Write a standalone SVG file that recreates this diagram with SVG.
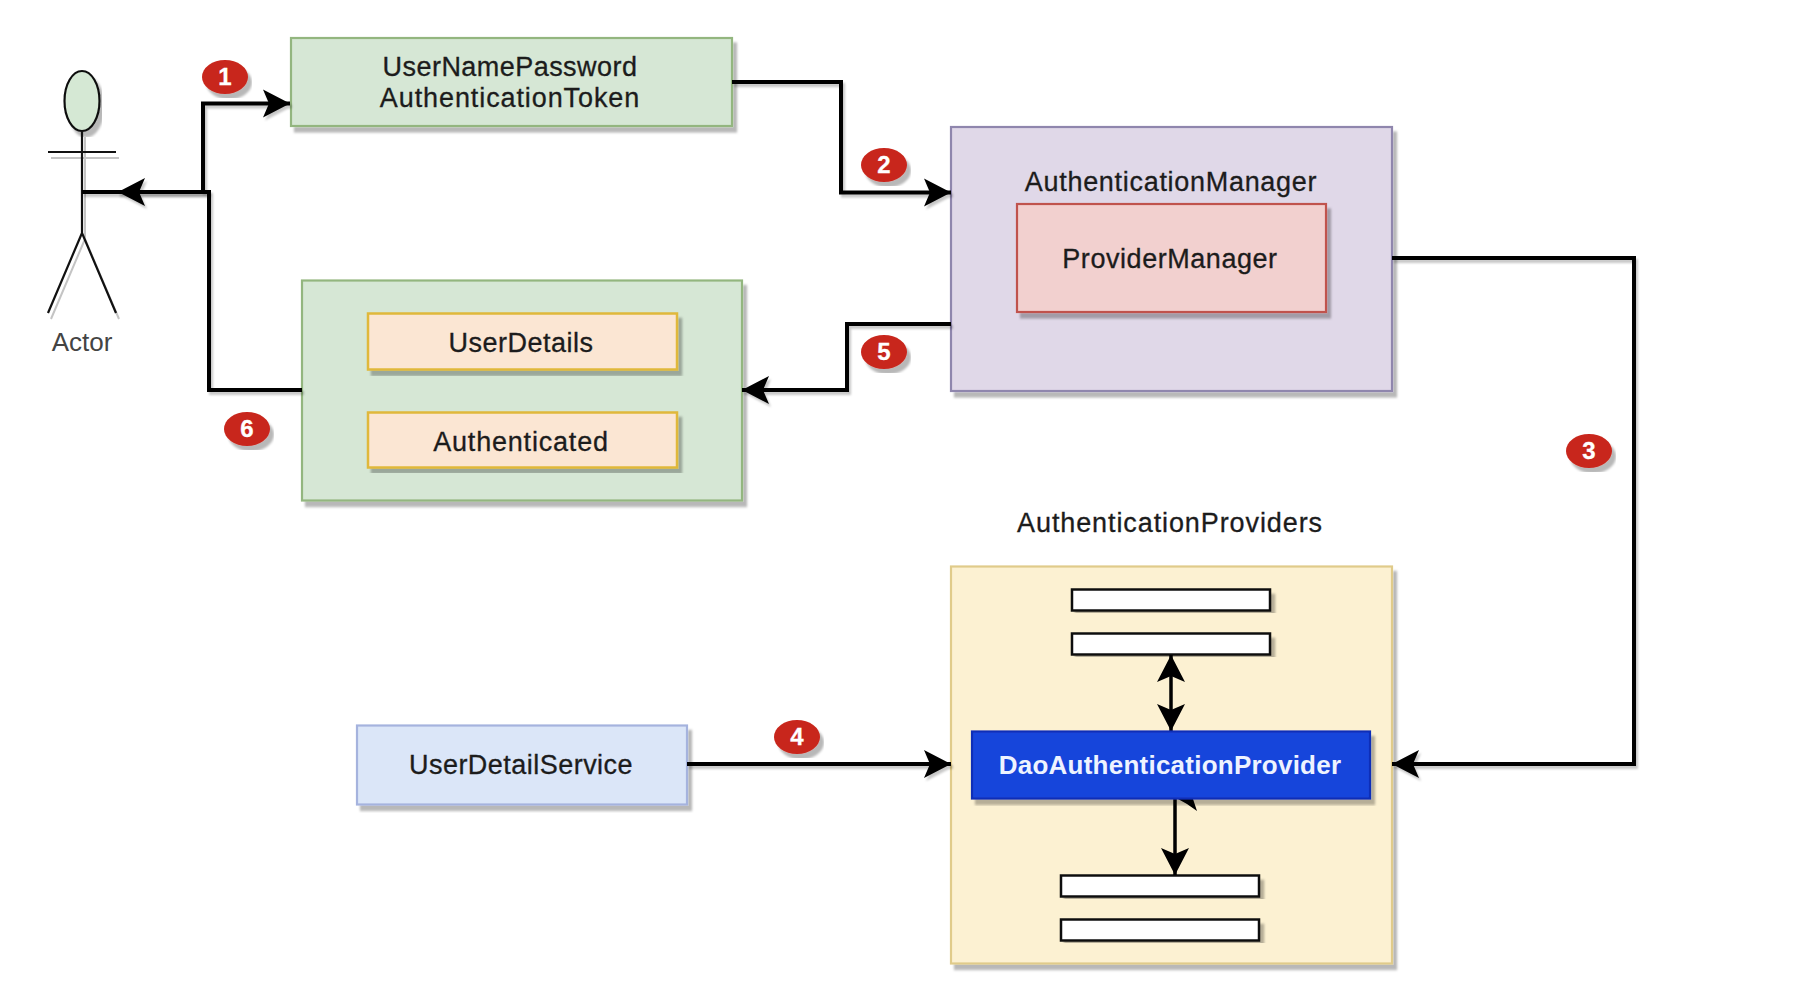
<svg xmlns="http://www.w3.org/2000/svg" width="1808" height="996" viewBox="0 0 1808 996">
<defs>
<marker id="head" markerUnits="userSpaceOnUse" markerWidth="32" markerHeight="32" refX="28" refY="16" orient="auto-start-reverse"><path d="M1 2L28 16L1 30L7 16Z" fill="#000"/></marker>
<filter id="shadow" x="-5%" y="-5%" width="112%" height="115%"><feDropShadow dx="4" dy="5.500" stdDeviation="0.8" flood-color="#000" flood-opacity="0.28"/></filter>
<filter id="wireshadow" filterUnits="userSpaceOnUse" x="0" y="0" width="1808" height="996"><feDropShadow dx="2" dy="3" stdDeviation="0.8" flood-color="#000" flood-opacity="0.22"/></filter>
</defs>
<style>
text{font-family:"Liberation Sans",Arial,sans-serif;font-size:27px;fill:#1c1c1c;stroke:#1c1c1c;stroke-width:.3;text-anchor:middle}
.box{filter:url(#shadow);stroke-width:2.2}
.green{fill:#d6e7d5;stroke:#93b67f}
.orange{fill:#fbe6d3;stroke:#e0b83a;stroke-width:2.5}
.purple{fill:#e0d8e8;stroke:#8f86ad}
.red{fill:#f2d0cf;stroke:#c0524e}
.yellow{fill:#fcf1d2;stroke:#e0cb8a}
.blue{fill:#dbe6f8;stroke:#a5b3de}
.bar{fill:#fff;stroke:#111;stroke-width:2.5}
.wire{fill:none;stroke:#000;stroke-width:4;filter:url(#wireshadow)}
.thin{fill:none;stroke:#000;stroke-width:3.500}
.stick{fill:none;stroke:#111;stroke-width:2.200}
.badge ellipse{fill:#c8261c;filter:url(#shadow)}
.badge text{fill:#fff;stroke:#fff;font-weight:700;font-size:24px}
</style>
<rect width="1808" height="996" fill="#fff"/>

<g id="actor">
<g filter="url(#shadow)"><ellipse class="stick" style="fill:#d5e8d4" cx="82" cy="101" rx="17.500" ry="30"/></g>
<path d="M82 131V233M48 152H116M82 233L48 313M82 233L116 313" stroke="#c4c4c4" stroke-width="2" fill="none" transform="translate(3,6)"/>
<path class="stick" d="M82 131V233M48 152H116M82 233L48 313M82 233L116 313"/>
<text x="82" y="351" style="font-size:26px;fill:#444;stroke:none">Actor</text>
</g>

<g id="token">
<rect class="box green" x="291" y="38" width="441" height="88"/>
<text x="510" y="76" letter-spacing=".45">UserNamePassword</text>
<text x="510" y="107" letter-spacing=".9">AuthenticationToken</text>
</g>

<g id="result">
<rect class="box green" x="302" y="280.500" width="440" height="220"/>
</g>
<g id="userdetails">
<rect class="box orange" x="368" y="313.500" width="309" height="56"/>
<text x="521" y="352" letter-spacing=".5">UserDetails</text>
</g>
<g id="authenticated">
<rect class="box orange" x="368" y="412.500" width="309" height="55"/>
<text x="521" y="451" letter-spacing=".8">Authenticated</text>
</g>

<g id="manager">
<rect class="box purple" x="951" y="127" width="441" height="264"/>
<text x="1171" y="191" letter-spacing=".7">AuthenticationManager</text>
</g>
<g id="providermanager">
<rect class="box red" x="1017" y="204" width="309" height="108"/>
<text x="1170" y="268" letter-spacing=".55">ProviderManager</text>
</g>

<g id="providers-label"><text x="1170" y="532" letter-spacing=".9">AuthenticationProviders</text></g>
<g id="providers">
<rect class="box yellow" x="951" y="566.500" width="441" height="397"/>
</g>
<g id="bar1"><rect class="box bar" x="1072" y="589.500" width="198" height="21"/></g>
<g id="bar2"><rect class="box bar" x="1072" y="633.500" width="198" height="21"/></g>
<g id="bar3"><rect class="box bar" x="1061" y="875.500" width="198" height="21"/></g>
<g id="bar4"><rect class="box bar" x="1061" y="919.500" width="198" height="21"/></g>

<g id="service">
<rect class="box blue" x="357" y="725.500" width="330" height="79"/>
<text x="521" y="774" letter-spacing=".47">UserDetailService</text>
</g>

<g id="connectors">
<path class="wire" marker-end="url(#head)" d="M203 192V103.500H290"/>
<path class="wire" d="M302 390H209V192H82"/>
<path class="wire" marker-end="url(#head)" d="M209 192H118"/>
<path class="wire" marker-end="url(#head)" d="M732 82H841V192.500H951"/>
<path class="wire" marker-end="url(#head)" d="M1392 258H1634V764H1392"/>
<path class="wire" marker-end="url(#head)" d="M687 764H951"/>
<path class="wire" marker-end="url(#head)" d="M951 324H847V390H742"/>
<path class="thin" marker-start="url(#head)" marker-end="url(#head)" d="M1171 655V731"/>
<path class="thin" marker-end="url(#head)" d="M1175 797V875"/>
<polygon points="1178,799 1193,799 1197,811 1187,804" fill="#000"/>
</g>

<g id="dao">
<rect class="box" x="972" y="731.500" width="398" height="67" fill="#1745db" stroke="#0f2fb8"/>
<text x="1170" y="774" letter-spacing=".24" style="fill:#eef3ff;stroke:none;font-weight:700;font-size:26px">DaoAuthenticationProvider</text>
</g>

<g class="badge" id="badge1"><ellipse cx="225" cy="77" rx="23" ry="17"/><text x="225" y="85">1</text></g>
<g class="badge" id="badge2"><ellipse cx="884" cy="165" rx="23" ry="17"/><text x="884" y="173">2</text></g>
<g class="badge" id="badge3"><ellipse cx="1589" cy="451" rx="23" ry="17"/><text x="1589" y="459">3</text></g>
<g class="badge" id="badge4"><ellipse cx="797" cy="737" rx="23" ry="17"/><text x="797" y="745">4</text></g>
<g class="badge" id="badge5"><ellipse cx="884" cy="352" rx="23" ry="17"/><text x="884" y="360">5</text></g>
<g class="badge" id="badge6"><ellipse cx="247" cy="429" rx="23" ry="17"/><text x="247" y="437">6</text></g>
</svg>
